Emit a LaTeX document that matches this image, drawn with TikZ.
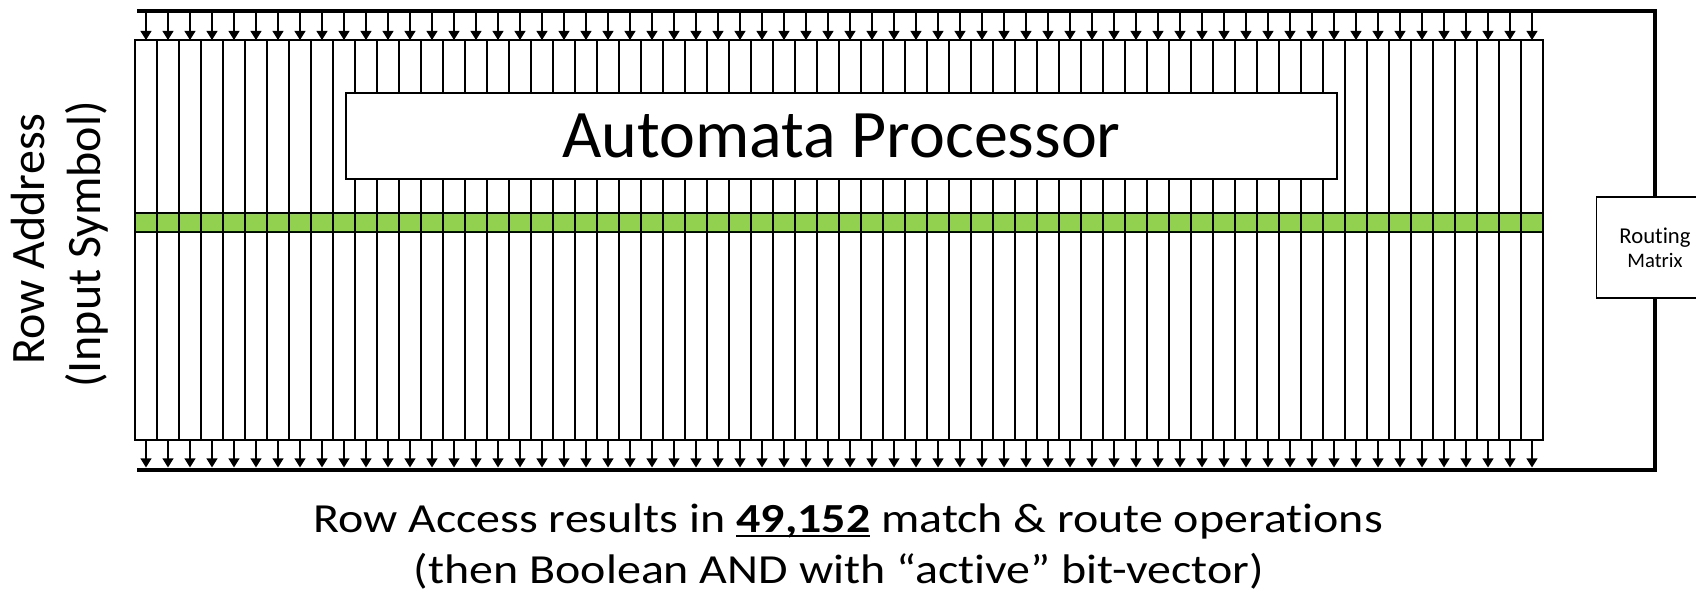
\documentclass[tikz,border=0pt]{standalone}
\usepackage{fontspec}
\setmainfont{Carlito}[Ligatures=NoCommon]
\newfontfamily\widefont{Carlito}[Ligatures=NoCommon,FakeStretch=1.16]
\usetikzlibrary{arrows.meta}
\definecolor{apgreen}{HTML}{92D050}
\newcommand\pxu{0.75pt}
\newcommand\ulnum[1]{\setbox0\hbox{#1}\rlap{\rule[-4.1pt]{\wd0}{1.5pt}}\box0}
\begin{document}
\begin{tikzpicture}[x=0.75pt,y=-0.75pt,
  colbox/.style={draw=black,line width=1pt,minimum width=22*\pxu,minimum height=400*\pxu,inner sep=0pt,outer sep=0pt},
  bandbox/.style={draw=black,fill=apgreen,line width=1pt,minimum width=1408*\pxu,minimum height=19*\pxu,inner sep=0pt,outer sep=0pt},
  titlebox/.style={draw=black,fill=white,line width=1pt,minimum width=991*\pxu,minimum height=86*\pxu,inner sep=0pt,outer sep=0pt,font=\fontsize{51pt}{61pt}\selectfont},
  rmbox/.style={draw=black,fill=white,line width=1pt,minimum width=117*\pxu,minimum height=101*\pxu,inner sep=0pt,outer sep=0pt},
  bus/.style={line width=3.6pt},
  feed/.style={-{Triangle[length=6.8pt,width=8.2pt]},line width=1pt},
  sidetxt/.style={rotate=90,anchor=base,inner sep=0pt,font=\fontsize{36pt}{43pt}\selectfont},
  bottxt/.style={anchor=base,inner sep=0pt,font=\widefont\fontsize{31pt}{37pt}\selectfont},
]
\useasboundingbox (0,0) rectangle (1696,597);
\node[bandbox] (band) at (839,222.5) {};
\foreach \i in {1,...,64} \node[colbox] (c\i) at ({124+22*\i},240) {};
\node[titlebox] (ap) at (841.5,136) {Automata Processor};
\coordinate (tl) at (137,11);
\coordinate (bl) at (137,470);
\node[rmbox] (rm) at (1655,247.5) {};
\node[anchor=base,inner sep=0pt,font=\fontsize{17pt}{20pt}\selectfont] (rmt1) at (1655,243.3) {Routing};
\node[anchor=base,inner sep=0pt,font=\fontsize{15.5pt}{18pt}\selectfont] (rmt2) at (1655,267.3) {Matrix};
\draw[bus] (tl) -| (rm.north);
\draw[bus] (bl) -| (rm.south);
\foreach \i in {1,...,64} {
  \draw[feed] (c\i.north |- tl) -- (c\i.north);
  \draw[feed,shorten >=1.9pt] (c\i.south) -- (c\i.south |- bl);
}
\node[sidetxt] (ra1) at (44,239) {Row Address};
\node[sidetxt] (ra2) at (100,244.5) {(Input Symbol)};
\node[bottxt] (bt1) at (848,532) {Row Access results in \textbf{\ulnum{49,152}} match \& route operations};
\node[bottxt] (bt2) at (839,583) {(then Boolean AND with “active” bit-vector)};
\end{tikzpicture}
\end{document}
